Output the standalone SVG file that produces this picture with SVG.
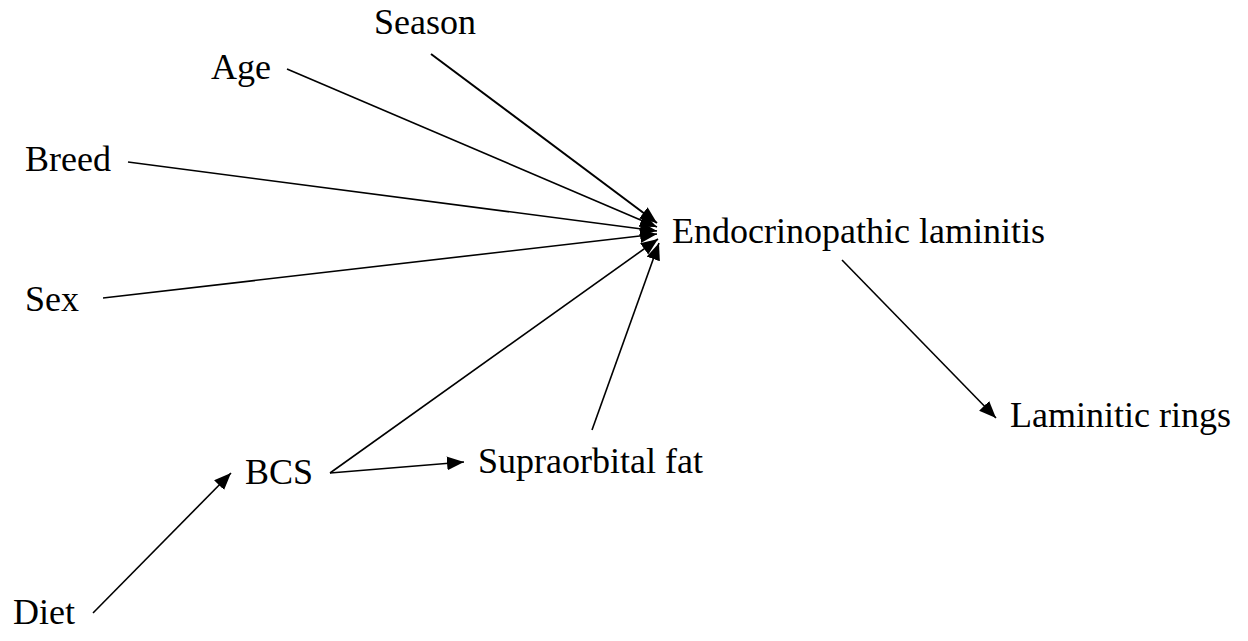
<svg xmlns="http://www.w3.org/2000/svg" width="1248" height="641" viewBox="0 0 1248 641">
<style>
text{font-family:"Liberation Serif","Times New Roman",serif;font-size:36px;fill:#000}
.c{stroke:#000;stroke-width:1.6;fill:none}
</style>
<defs>
<marker id="ah" markerUnits="userSpaceOnUse" markerWidth="20" markerHeight="16" refX="17" refY="7" orient="auto">
<path d="M0,0 L17,7 L0,14 Z" fill="#000"/>
</marker>
</defs>
<rect width="1248" height="641" fill="#fff"/>
<g id="connectors">
<line class="c" x1="431" y1="54" x2="657" y2="223" marker-end="url(#ah)" style="stroke-width:2"/>
<line class="c" x1="287" y1="69" x2="657" y2="227" marker-end="url(#ah)"/>
<line class="c" x1="128" y1="162" x2="657" y2="231" marker-end="url(#ah)"/>
<line class="c" x1="103" y1="298" x2="657" y2="234" marker-end="url(#ah)"/>
<line class="c" x1="330" y1="473" x2="658" y2="239" marker-end="url(#ah)"/>
<line class="c" x1="592" y1="430" x2="659" y2="243" marker-end="url(#ah)"/>
<line class="c" x1="330" y1="473" x2="464" y2="462" marker-end="url(#ah)"/>
<line class="c" x1="93" y1="613" x2="231" y2="473" marker-end="url(#ah)"/>
<line class="c" x1="842" y1="260" x2="996" y2="418" marker-end="url(#ah)"/>
</g>
<g id="season"><text x="374" y="34">Season</text></g>
<g id="age"><text x="211" y="79">Age</text></g>
<g id="breed"><text x="25" y="171">Breed</text></g>
<g id="sex"><text x="25" y="311">Sex</text></g>
<g id="endo"><text x="672" y="243">Endocrinopathic laminitis</text></g>
<g id="rings"><text x="1010" y="427">Laminitic rings</text></g>
<g id="supra"><text x="478" y="473">Supraorbital fat</text></g>
<g id="bcs"><text x="245" y="484">BCS</text></g>
<g id="diet"><text x="13" y="624">Diet</text></g>
</svg>
